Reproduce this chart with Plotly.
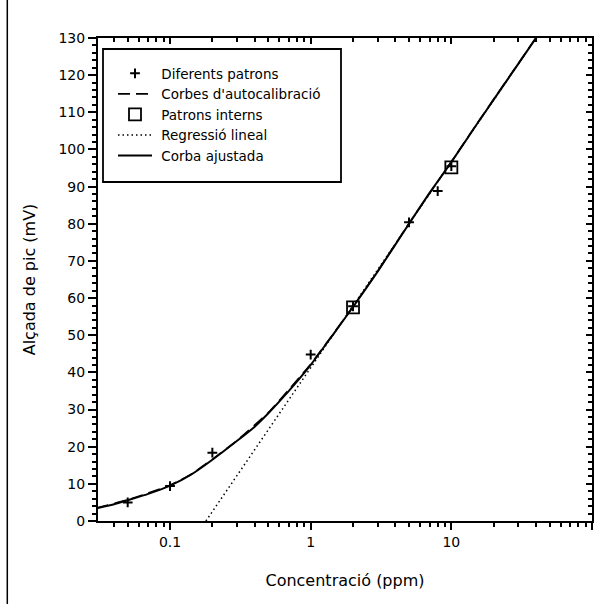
import plotly.graph_objects as go

# Calibration standards (concentration in ppm, peak height in mV)
std_conc = [0.05, 0.1, 0.2, 1.0, 2.0, 5.0, 8.0, 10.0, 40.0]
std_height = [5.0, 9.4, 18.4, 44.8, 57.8, 80.4, 88.8, 95.5, 130.3]

# Internal standards
int_conc = [2.0, 10.0]
int_height = [57.5, 95.2]

# Fitted calibration curve
fit_conc = [0.030, 0.040, 0.050, 0.070, 0.100, 0.140, 0.200, 0.300, 0.400,
            0.500, 0.700, 1.00, 1.40, 2.00, 3.00, 5.00, 7.00, 10.0, 15.0,
            20.0, 30.0, 40.0]
fit_height = [3.4, 4.5, 5.6, 7.3, 9.5, 12.4, 16.5, 21.6, 25.4,
              29.0, 35.0, 42.0, 49.5, 57.6, 67.2, 80.0, 88.3, 96.6, 106.5,
              113.4, 123.1, 130.0]

# Self-calibration curves
auto_conc = [0.030, 0.050, 0.100, 0.140, 0.200, 0.300, 0.500, 1.00, 2.00,
             3.00, 5.00, 10.0, 15.0, 20.0, 30.0, 40.0]
auto_height = [3.5, 5.7, 9.6, 12.5, 16.6, 21.7, 29.2, 42.2, 57.7,
               67.3, 80.1, 96.7, 106.6, 113.5, 123.2, 130.1]

# Linear regression on log concentration
reg_conc = [0.18, 40.0]
reg_height = [0.0, 130.0]

FONT = "DejaVu Sans"
BLACK = "#000000"
PAD = "\u00a0"

fig = go.Figure()

fig.add_trace(go.Scatter(
    x=std_conc, y=std_height, mode="markers", name=PAD + "Diferents patrons",
    marker=dict(symbol="cross-thin", size=7, color=BLACK,
                line=dict(width=2, color=BLACK)),
))
fig.add_trace(go.Scatter(
    x=auto_conc, y=auto_height, mode="lines",
    name=PAD + "Corbes d'autocalibració",
    line=dict(color=BLACK, width=1.6, dash="12px,6px",
              shape="spline", smoothing=0.4),
))
fig.add_trace(go.Scatter(
    x=int_conc, y=int_height, mode="markers", name=PAD + "Patrons interns",
    marker=dict(symbol="square-open", size=12, color=BLACK,
                line=dict(width=1.8, color=BLACK)),
))
fig.add_trace(go.Scatter(
    x=reg_conc, y=reg_height, mode="lines", name=PAD + "Regressió lineal",
    line=dict(color=BLACK, width=1.5, dash="1.5px,3px"),
))
fig.add_trace(go.Scatter(
    x=fit_conc, y=fit_height, mode="lines", name=PAD + "Corba ajustada",
    line=dict(color=BLACK, width=2, shape="spline", smoothing=0.4),
))
# Carrier for the mirrored top/right axes
fig.add_trace(go.Scatter(x=[], y=[], xaxis="x2", yaxis="y2",
                         showlegend=False, hoverinfo="skip"))

X_RANGE = [-1.512, 2.0]
Y_RANGE = [0, 130]

common_x = dict(type="log", range=X_RANGE, showline=True, linewidth=2,
                linecolor=BLACK, showgrid=False, zeroline=False, dtick=1,
                tickcolor=BLACK, tickwidth=1.5)
common_y = dict(range=Y_RANGE, showline=True, linewidth=2, linecolor=BLACK,
                showgrid=False, zeroline=False, dtick=10, tickcolor=BLACK,
                tickwidth=1.5)

fig.update_layout(
    width=602, height=604,
    margin=dict(l=98, r=10, t=38, b=83),
    paper_bgcolor="white", plot_bgcolor="white",
    font=dict(family=FONT, size=14, color=BLACK),
    xaxis=dict(**common_x, ticks="outside", ticklen=7,
               minor=dict(ticks="outside", ticklen=4, tickwidth=1.5,
                          tickcolor=BLACK, dtick="D1"),
               tickfont=dict(size=14),
               title=dict(text="Concentració (ppm)", font=dict(size=16),
                          standoff=26)),
    xaxis2=dict(**common_x, overlaying="x", side="top", anchor="y",
                ticks="inside", ticklen=6, showticklabels=False,
                minor=dict(ticks="inside", ticklen=4, tickwidth=1.5,
                           tickcolor=BLACK, dtick="D1")),
    yaxis=dict(**common_y, ticks="outside", ticklen=8,
               minor=dict(ticks="outside", ticklen=4, tickwidth=1.5,
                          tickcolor=BLACK, dtick=2),
               tickfont=dict(size=14),
               title=dict(text="Alçada de pic (mV)", font=dict(size=16),
                          standoff=19)),
    yaxis2=dict(**common_y, overlaying="y", side="right", anchor="x",
                ticks="inside", ticklen=6, showticklabels=False,
                minor=dict(ticks="inside", ticklen=4, tickwidth=1.5,
                           tickcolor=BLACK, dtick=2)),
    legend=dict(x=(113 - 98) / 494, y=(521 - 58) / 483,
                xanchor="left", yanchor="top",
                bgcolor="rgba(0,0,0,0)", borderwidth=0,
                font=dict(family=FONT, size=13.5, color=BLACK),
                itemwidth=34, tracegroupgap=0),
    showlegend=True,
    shapes=[
        # legend frame
        dict(type="rect", xref="paper", yref="paper",
             x0=(103 - 98) / 494, x1=(341 - 98) / 494,
             y0=(521 - 182) / 483, y1=(521 - 49) / 483,
             line=dict(color=BLACK, width=1.8), fillcolor="rgba(0,0,0,0)"),
        # page rule on the left
        dict(type="line", xref="paper", yref="paper",
             x0=(7.3 - 98) / 494, x1=(7.3 - 98) / 494,
             y0=(521 - 604) / 483, y1=(521 - 0) / 483,
             line=dict(color=BLACK, width=1.5)),
    ],
)

fig.write_html("out.html")
